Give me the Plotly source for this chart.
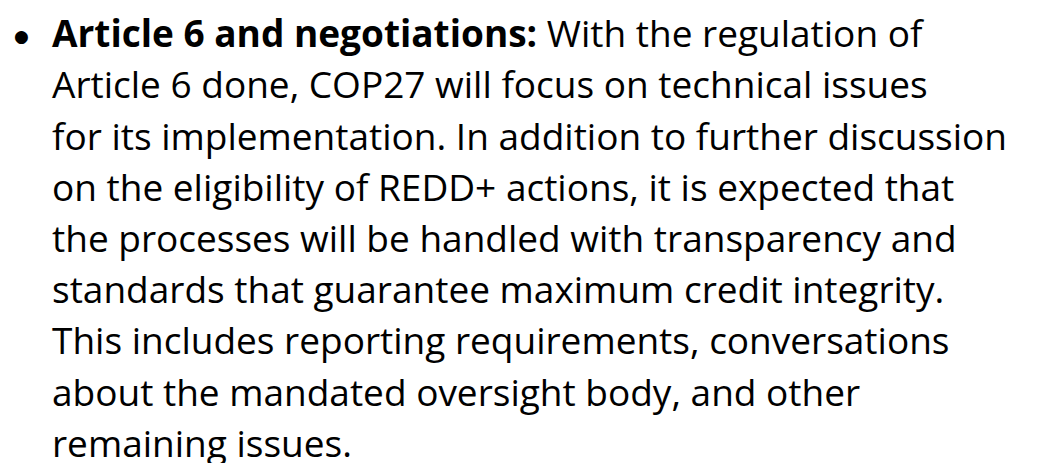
import plotly.graph_objects as go

# text content
lead_bold = "Article 6 and negotiations:"
body_lines = [
    " With the regulation of",
    "Article 6 done, COP27 will focus on technical issues",
    "for its implementation. In addition to further discussion",
    "on the eligibility of REDD+ actions, it is expected that",
    "the processes will be handled with transparency and",
    "standards that guarantee maximum credit integrity.",
    "This includes reporting requirements, conversations",
    "about the mandated oversight body, and other",
    "remaining issues.",
]

W, H = 1038, 463
font_size = 37
line_gap = 51.2
first_baseline = 50.5
text_x = 42
fam = "Open Sans"

fig = go.Figure()

annots = []
for i, line in enumerate(body_lines):
    txt = line
    if i == 0:
        txt = "<b>" + lead_bold + "</b>" + line
    y = first_baseline + i * line_gap - 0.7 * font_size
    annots.append(dict(x=text_x, y=y, xref="x", yref="y", text=txt, showarrow=False,
                       xanchor="left", yanchor="middle",
                       font=dict(family=fam, size=font_size, color="#000000")))

# bullet
annots.append(dict(x=13, y=28, xref="x", yref="y", text="●",
                   showarrow=False, xanchor="center", yanchor="middle",
                   font=dict(family="DejaVu Sans", size=17, color="#000000")))

fig.update_layout(
    width=W, height=H,
    margin=dict(l=0, r=0, t=0, b=0),
    paper_bgcolor="white", plot_bgcolor="white",
    xaxis=dict(range=[0, W], visible=False, fixedrange=True),
    yaxis=dict(range=[H, 0], visible=False, fixedrange=True),
    annotations=annots,
    showlegend=False,
)

fig.write_html("out.html")
